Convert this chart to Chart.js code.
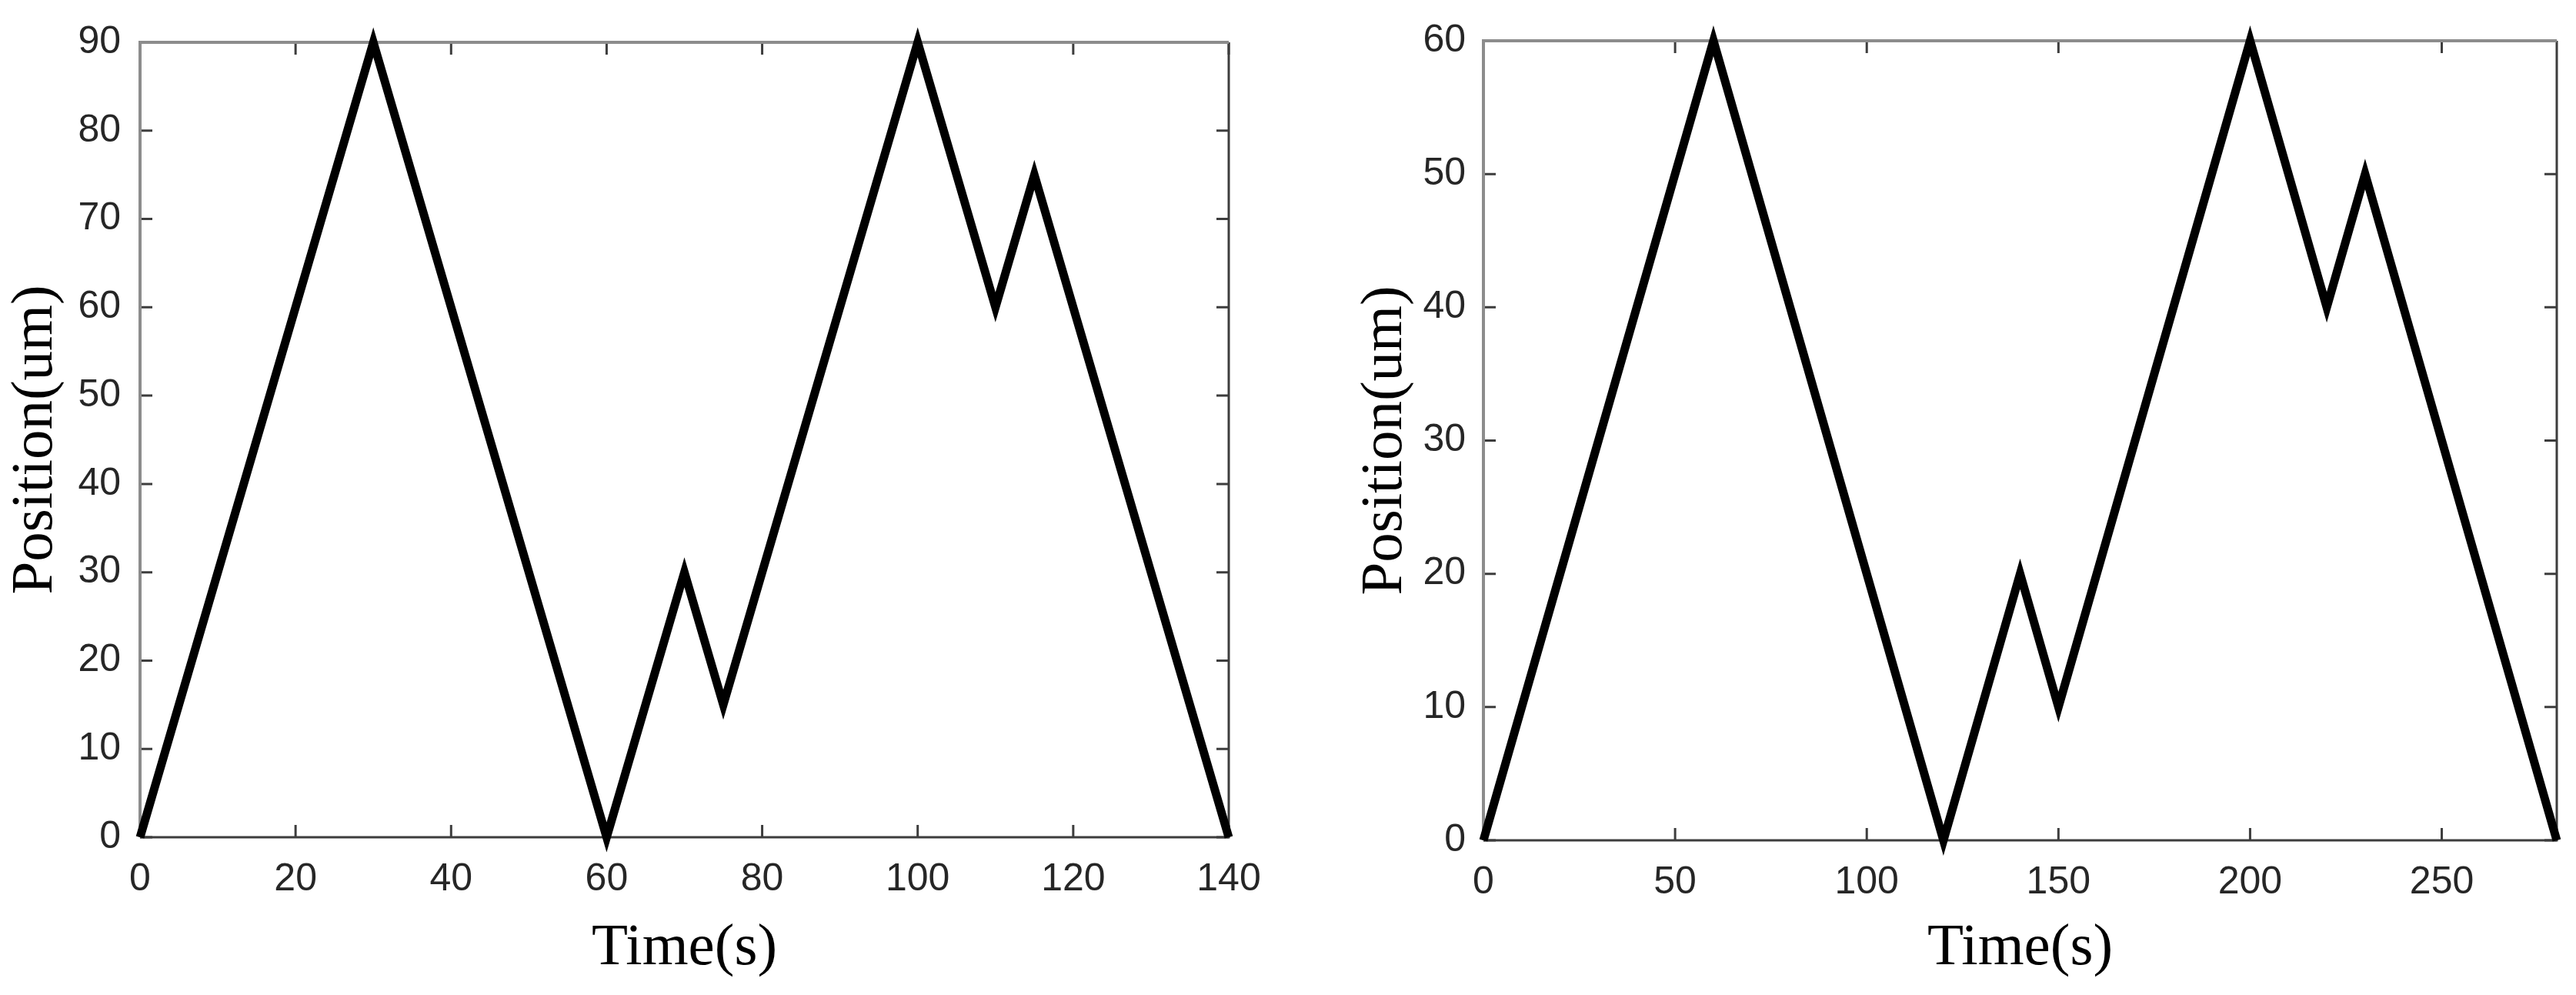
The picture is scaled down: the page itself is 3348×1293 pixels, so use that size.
<!DOCTYPE html>
<html>
<head>
<meta charset="utf-8">
<script src="https://cdn.jsdelivr.net/npm/chart.js@4"></script>
<style>
  body { margin: 0; background: #fff; }
  canvas { position: absolute; top: 0; }
  #left { left: 0; }
  #right { left: 1674px; }
</style>
</head>
<body>
<canvas id="left" width="1674" height="1293"></canvas>
<canvas id="right" width="1674" height="1293"></canvas>
<script>
const timeA = [0, 30, 60, 70, 75, 100, 110, 115, 140];
const posA = [0, 90, 0, 30, 15, 90, 60, 75, 0];
const xTicksA = [0, 20, 40, 60, 80, 100, 120, 140];
const yTicksA = [0, 10, 20, 30, 40, 50, 60, 70, 80, 90];

const timeB = [0, 60, 120, 140, 150, 200, 220, 230, 280];
const posB = [0, 60, 0, 20, 10, 60, 40, 50, 0];
const xTicksB = [0, 50, 100, 150, 200, 250];
const yTicksB = [0, 10, 20, 30, 40, 50, 60];

const xTitle = 'Time(s)';
const yTitle = 'Position(um)';

const boxPlugin = {
  id: 'box',
  beforeDatasetsDraw(chart) {
    const {ctx, chartArea: a, scales} = chart;
    ctx.save();
    ctx.lineCap = 'butt';
    ctx.strokeStyle = '#3d3d3d';
    ctx.lineWidth = 3;
    ctx.beginPath();
    scales.x.ticks.forEach(t => {
      const px = scales.x.getPixelForValue(t.value);
      ctx.moveTo(px, a.bottom); ctx.lineTo(px, a.bottom - 16);
      ctx.moveTo(px, a.top); ctx.lineTo(px, a.top + 16);
    });
    scales.y.ticks.forEach(t => {
      const py = scales.y.getPixelForValue(t.value);
      ctx.moveTo(a.left, py); ctx.lineTo(a.left + 16, py);
      ctx.moveTo(a.right, py); ctx.lineTo(a.right - 16, py);
    });
    ctx.stroke();
    ctx.beginPath();
    ctx.moveTo(a.left, a.bottom); ctx.lineTo(a.right, a.bottom); ctx.lineTo(a.right, a.top);
    ctx.stroke();
    ctx.strokeStyle = '#8c8c8c';
    ctx.lineWidth = 4;
    ctx.beginPath();
    ctx.moveTo(a.left, a.bottom); ctx.lineTo(a.left, a.top); ctx.lineTo(a.right, a.top);
    ctx.stroke();
    ctx.restore();
  }
};

function makeChart(id, time, pos, xTicks, yTicks, lay) {
  return new Chart(document.getElementById(id), {
    type: 'line',
    data: {
      datasets: [{
        data: time.map((t, i) => ({x: t, y: pos[i]})),
        borderColor: '#000',
        borderWidth: 11,
        pointRadius: 0,
        tension: 0,
        borderJoinStyle: 'miter',
        clip: false
      }]
    },
    options: {
      responsive: false,
      devicePixelRatio: 1,
      animation: false,
      layout: { padding: {left: 0, top: lay.top, right: lay.right, bottom: 0} },
      plugins: { legend: {display: false}, tooltip: {enabled: false} },
      scales: {
        x: {
          type: 'linear',
          min: xTicks[0],
          max: lay.xMax,
          afterBuildTicks: s => { s.ticks = xTicks.map(v => ({value: v})); },
          afterFit: s => { s.height = lay.xHeight; },
          grid: {display: false, drawTicks: false},
          border: {display: false},
          ticks: {
            padding: 25,
            color: '#262626',
            maxRotation: 0,
            font: {family: '"Liberation Sans", Arial, sans-serif', size: 50}
          },
          title: {
            display: true,
            text: xTitle,
            color: '#000',
            padding: {top: 0, bottom: 22},
            font: {family: '"Liberation Serif", "Times New Roman", serif', size: 77, lineHeight: 1}
          }
        },
        y: {
          min: yTicks[0],
          max: yTicks[yTicks.length - 1],
          afterBuildTicks: s => { s.ticks = yTicks.map(v => ({value: v})); },
          afterFit: s => { s.width = lay.yWidth; },
          grid: {display: false, drawTicks: false},
          border: {display: false},
          ticks: {
            padding: lay.yPad,
            color: '#262626',
            font: {family: '"Liberation Sans", Arial, sans-serif', size: 50}
          },
          title: {
            display: true,
            text: yTitle,
            color: '#000',
            padding: {top: lay.yTitlePad, bottom: 0},
            font: {family: '"Liberation Serif", "Times New Roman", serif', size: 77, lineHeight: 1}
          }
        }
      }
    },
    plugins: [boxPlugin]
  });
}

makeChart('left', timeA, posA, xTicksA, yTicksA,
  {top: 48, right: 77, xHeight: 205, yWidth: 182, yPad: 25, yTitlePad: 8, xMax: 140});
makeChart('right', timeB, posB, xTicksB, yTicksB,
  {top: 42, right: 25, xHeight: 201, yWidth: 254, yPad: 23, yTitlePad: 88, xMax: 280});
</script>
</body>
</html>
